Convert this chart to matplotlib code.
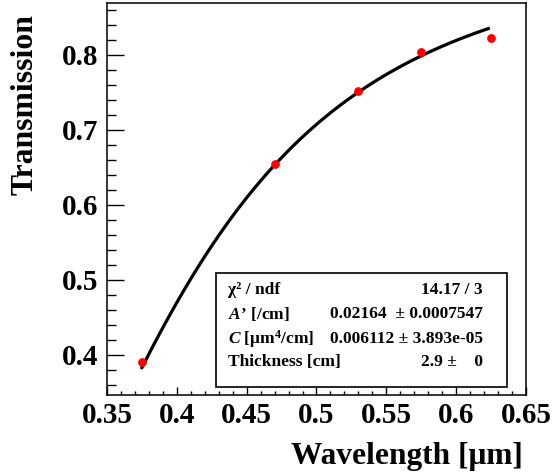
import numpy as np
import matplotlib
matplotlib.use("Agg")
import matplotlib.pyplot as plt
from matplotlib.patches import Rectangle

# Measured transmission vs wavelength
wavelength = [0.375, 0.470, 0.530, 0.575, 0.625]
transmission = [0.391, 0.654, 0.752, 0.804, 0.822]

# Fit results: T = exp(-t * (A' + C / lambda^4))
chi2, ndf = 14.17, 3
A_par, A_err = 0.02164, 0.0007547
C_par, C_err = 0.006112, 3.893e-05
thick, thick_err = 2.9, 0
fit_range = (0.375, 0.623)

x_ticks = [0.35, 0.4, 0.45, 0.5, 0.55, 0.6, 0.65]
x_tick_labels = ["0.35", "0.4", "0.45", "0.5", "0.55", "0.6", "0.65"]
y_ticks = [0.4, 0.5, 0.6, 0.7, 0.8]
y_tick_labels = ["0.4", "0.5", "0.6", "0.7", "0.8"]

plt.rcParams["font.family"] = ["Liberation Serif", "DejaVu Serif"]
plt.rcParams["font.weight"] = "bold"
plt.rcParams["mathtext.fontset"] = "custom"
plt.rcParams["mathtext.rm"] = "Liberation Serif:bold"
plt.rcParams["mathtext.it"] = "Liberation Serif:italic:bold"
plt.rcParams["mathtext.bf"] = "Liberation Serif:bold"

W, H = 558, 473
fig = plt.figure(figsize=(W / 100, H / 100), dpi=100)
ax = fig.add_axes([107 / W, 1 - 395 / H, (526 - 107) / W, (395 - 3) / H])

lam = np.linspace(fit_range[0], fit_range[1], 400)
model = np.exp(-thick * (A_par + C_par / lam ** 4))
ax.plot(lam, model, color="black", lw=2.3, zorder=2)
ax.plot(wavelength, transmission, "o", color="#ff0000", ms=6.3, mec="none", zorder=3)

ax.set_xlim(0.35, 0.65)
ax.set_ylim(0.3467, 0.869)
ax.set_xticks(x_ticks)
ax.set_xticklabels(x_tick_labels)
ax.set_yticks(y_ticks)
ax.set_yticklabels(y_tick_labels)
ax.set_xticks(np.arange(0.35, 0.6501, 0.01), minor=True)
ax.set_yticks(np.arange(0.36, 0.869, 0.02), minor=True)

for s in ax.spines.values():
    s.set_linewidth(1.1)
ax.tick_params(axis="both", which="both", direction="in", top=False, right=False,
               width=1.0, labelsize=21)
ax.tick_params(axis="x", which="major", length=6, pad=5)
ax.tick_params(axis="x", which="minor", length=3)
ax.tick_params(axis="y", which="major", length=12.5, pad=6.5)
ax.tick_params(axis="y", which="minor", length=6.5)
for lab in ax.get_xticklabels() + ax.get_yticklabels():
    lab.set_fontweight("bold")

fig.text(25 / W, 1 - 14 / H, "Transmission", rotation=90, ha="center", va="top",
         fontsize=22.8, fontweight="bold")
fig.text(523 / W, 1 - 456 / H, "Wavelength [μm]", ha="right", va="center",
         fontsize=22.6, fontweight="bold")

# Fit statistics box
fig.add_artist(Rectangle((216 / W, 1 - 387 / H), (507 - 216) / W, (387 - 273) / H,
                         transform=fig.transFigure, facecolor="white",
                         edgecolor="black", lw=1.2, zorder=5))
rows_left = ["χ² / ndf", r"$\mathit{A}$’ [/cm]", r"$\mathit{C}$ [μm$^{4}$/cm]", "Thickness [cm]"]
rows_right = [f"{chi2:.2f} / {ndf}",
              f"{A_par}  ± {A_err}",
              f"{C_par} ± {C_err:.3e}",
              f"{thick} ±    {thick_err}"]
row_y = [290, 314, 339, 362]
for yl, tl, tr in zip(row_y, rows_left, rows_right):
    fig.text(228 / W, 1 - yl / H, tl, ha="left", va="center", fontsize=12.5,
             fontweight="bold", zorder=6)
    fig.text(483 / W, 1 - yl / H, tr, ha="right", va="center", fontsize=12.5,
             fontweight="bold", zorder=6)

fig.savefig("out.png", dpi=100)
